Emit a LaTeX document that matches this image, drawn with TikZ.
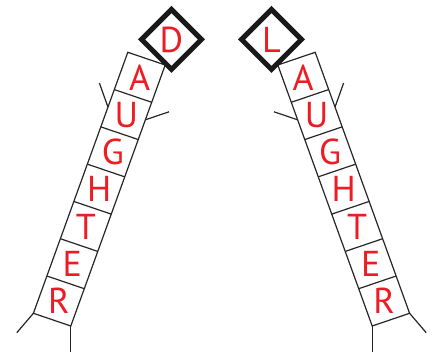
\documentclass[tikz,border=0pt]{standalone}
\usepackage{fontspec}
\usepackage{xcolor}
\usepackage{tikz}
\usetikzlibrary{calc, shapes.geometric}
\newfontfamily\letterfont{PT Sans}
\definecolor{wordred}{RGB}{237,28,36}

\begin{document}
\begin{tikzpicture}[
  x=1pt, y=-1pt,
  rail/.style={draw=black!85, line width=1.2pt, line join=miter},
  letter/.style={text=wordred, inner sep=0pt, font=\letterfont\fontsize{36}{36}\selectfont},
  headbox/.style={shape=diamond, aspect=1, draw=black!90, fill=white, line width=5pt,
    minimum width=62pt, minimum height=62pt, inner sep=0pt, text=wordred,
    font=\letterfont\fontsize{36}{36}\selectfont}
]
\useasboundingbox (0,0) rectangle (440,352);

% Left ladder corners
\coordinate (LA) at (127.8,52.3);
\coordinate (LB) at (165.2,65);
\coordinate (LC) at (70.8,326);
\coordinate (LD) at (33.4,313.3);
\coordinate (Ltop) at ($(LA)!0.5!(LB)$);
\coordinate (Lbot) at ($(LD)!0.5!(LC)$);

% Right ladder corners (mirror of the left one)
\coordinate (RA) at (315.2,52.3);
\coordinate (RB) at (277.8,65);
\coordinate (RC) at (372.2,326);
\coordinate (RD) at (409.6,313.3);
\coordinate (Rtop) at ($(RA)!0.5!(RB)$);
\coordinate (Rbot) at ($(RD)!0.5!(RC)$);

% Ladder outlines and rungs
\draw[rail] (LA) -- (LB) -- (LC) -- (LD) -- cycle;
\draw[rail] (RA) -- (RB) -- (RC) -- (RD) -- cycle;
\foreach \k in {1,...,6} {
  \draw[rail] ($(LA)!\k/7!(LD)$) -- ($(LB)!\k/7!(LC)$);
  \draw[rail] ($(RA)!\k/7!(RD)$) -- ($(RB)!\k/7!(RC)$);
}

% Side stubs
\coordinate (Lstub1) at ($(LA)!0.21!(LD)$);
\coordinate (Lstub1end) at (99.4,83.1);
\coordinate (Lstub2) at ($(LB)!0.21!(LC)$);
\coordinate (Lstub2end) at (169,111.8);
\coordinate (Rstub1) at ($(RA)!0.21!(RD)$);
\coordinate (Rstub1end) at (343.6,83.1);
\coordinate (Rstub2) at ($(RB)!0.21!(RC)$);
\coordinate (Rstub2end) at (274,111.8);
\draw[rail] (Lstub1) -- (Lstub1end);
\draw[rail] (Lstub2) -- (Lstub2end);
\draw[rail] (Rstub1) -- (Rstub1end);
\draw[rail] (Rstub2) -- (Rstub2end);

% Roots at the bottom
\coordinate (Lroot1) at (16.8,332.7);
\coordinate (Lroot2) at (70.8,352);
\coordinate (Rroot1) at (426.2,332.7);
\coordinate (Rroot2) at (372.2,352);
\draw[rail] (LD) -- (Lroot1);
\draw[rail] (LC) -- (Lroot2);
\draw[rail] (RD) -- (Rroot1);
\draw[rail] (RC) -- (Rroot2);

% Letters in the boxes
\foreach \ch [count=\i] in {A,U,G,H,T,E,R} {
  \node[letter] (lw\i) at ($(Ltop)!{(\i-0.5)/7}!(Lbot)$) {\ch};
  \node[letter] (rw\i) at ($(Rtop)!{(\i-0.5)/7}!(Rbot)$) {\ch};
}

% Head diamonds
\node[headbox] (dhead) at (171.5,39.5) {D};
\node[headbox] (lhead) at (271.5,39.5) {L};

\end{tikzpicture}
\end{document}
